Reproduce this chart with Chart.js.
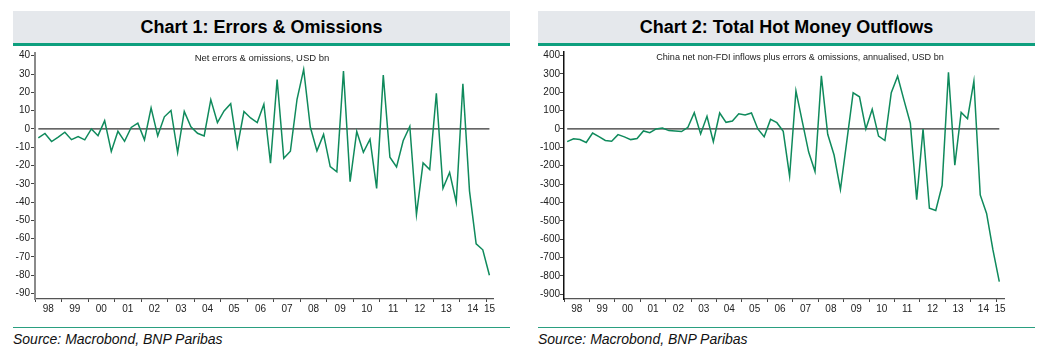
<!DOCTYPE html>
<html>
<head>
<meta charset="utf-8">
<script src="https://cdn.jsdelivr.net/npm/chart.js@4.4.1/dist/chart.umd.min.js"></script>
<style>
  html, body { margin: 0; padding: 0; background: #ffffff; }
  body { width: 1048px; height: 355px; position: relative; overflow: hidden; font-family: "Liberation Sans", Arial, sans-serif; }
  .titlebar { position: absolute; top: 11px; width: 497px; height: 32px; background: #e5e8ec;
    font-weight: bold; font-size: 18px; line-height: 33px; text-align: center; color: #000; }
  .rule { position: absolute; top: 43px; width: 497px; height: 3px; background: #0e9f7e; }
  .brule { position: absolute; top: 327px; width: 497px; height: 1px; background: #2a9f80; }
  .source { position: absolute; top: 331px; font-style: italic; font-size: 14px; color: #111; white-space: nowrap; }
  .sub { position: absolute; top: 52px; font-size: 9.5px; color: #222; white-space: nowrap; transform: translateX(-50%); }
  .cv { position: absolute; top: 46px; width: 520px; height: 280px; }
</style>
</head>
<body>
  <div class="titlebar" style="left:13px">Chart 1: Errors &amp; Omissions</div>
  <div class="rule" style="left:13px"></div>
  <div class="titlebar" style="left:538px">Chart 2: Total Hot Money Outflows</div>
  <div class="rule" style="left:538px"></div>

  <div class="cv" style="left:0px"><canvas id="c1" width="520" height="280"></canvas></div>
  <div class="cv" style="left:525px"><canvas id="c2" width="520" height="280"></canvas></div>

  <div class="sub" style="left:262px">Net errors &amp; omissions, USD bn</div>
  <div class="sub" style="left:800px; font-size:9.1px">China net non-FDI inflows plus errors &amp; omissions, annualised, USD bn</div>

  <div class="brule" style="left:13px"></div>
  <div class="brule" style="left:538px"></div>
  <div class="source" style="left:13px">Source: Macrobond, BNP Paribas</div>
  <div class="source" style="left:538px">Source: Macrobond, BNP Paribas</div>

<script>
// ---- Data ----
const years = [1998,1999,2000,2001,2002,2003,2004,2005,2006,2007,2008,2009,2010,2011,2012,2013,2014,2015];
const yearLabels = ['98','99','00','01','02','03','04','05','06','07','08','09','10','11','12','13','14','15'];
// quarterly observations 1998Q1 .. 2015Q1
const quarters = [];
years.forEach(y => { [1,2,3,4].forEach(q => { if (y < 2015 || q === 1) quarters.push(y + 'Q' + q); }); });

const errorsOmissions = [
  -4.9, -2.5, -6.9, -4.5,
  -1.8, -5.9, -4.2, -6.0,
   0.0, -3.7,  4.5, -12.3,
  -1.3, -6.8,  0.8,  3.1,
  -6.0, 11.5, -3.8,  6.6,
  10.1, -12.9, 9.6,  1.2,
  -2.4, -3.8, 16.0,  3.5,
   9.8, 13.8, -10.0, 9.5,
   6.0,  3.5, 13.5, -18.8,
  27.0, -16.1, -12.2, 16.2,
  32.5,  1.0, -12.0, -3.0,
 -20.6, -23.5, 31.6, -28.9,
  -1.4, -12.8, -5.6, -32.5,
  29.4, -15.5, -20.8, -6.5,
   1.3, -46.9, -18.6, -22.2,
  19.5, -32.5, -23.8, -40.1,
  24.7, -34.0, -62.8, -66.1,
 -80.0
];

const hotMoney = [
  -69, -54, -58, -74,
  -22, -42, -63, -67,
  -31, -43, -58, -52,
  -11, -20,   0,   5,
   -9, -11, -14,   9,
   88, -27,  69, -69,
   87,  36,  43,  83,
   76,  87,   0, -42,
   52,  34, -13, -256,
  207,  40, -126, -232,
  289, -29, -142, -330,
  -68, 197, 175,   0,
  107, -39, -63, 197,
  287, 157,  31, -385,
    0, -432, -444, -307,
  309, -197,  90,  56,
  260, -359, -460, -659,
 -831
];

// ---- helpers ----
function qx(label) { // mid-quarter position in fractional years
  const y = parseInt(label.slice(0, 4), 10), q = parseInt(label.slice(5), 10);
  return y + (q - 0.5) / 4;
}

function makeChart(id, values, cfg) {
  const pts = quarters.map((q, i) => ({ x: qx(q), y: values[i] }));
  const zero = quarters.map(q => ({ x: qx(q), y: 0 }));
  const xMin = years[0], xMax = cfg.xMax;
  const labelPos = years.map(y => y === years[years.length - 1] ? (y + xMax) / 2 : y + 0.5);
  const tickFont = { family: '"Liberation Sans", Arial, sans-serif', size: 10 };
  return new Chart(document.getElementById(id), {
    type: 'line',
    data: {
      datasets: [
        { data: pts, borderColor: '#0f8a5c', borderWidth: 1.5, pointRadius: 0, tension: 0, fill: false },
        { data: zero, borderColor: '#333333', borderWidth: 1.3, pointRadius: 0, tension: 0, fill: false }
      ]
    },
    options: {
      responsive: false,
      animation: false,
      events: [],
      layout: { padding: { left: 0, right: cfg.padRight, top: 5, bottom: 6 } },
      plugins: { legend: { display: false }, tooltip: { enabled: false }, title: { display: false } },
      scales: {
        x: {
          type: 'linear', min: xMin, max: xMax,
          afterBuildTicks: (s) => {
            const t = [];
            years.forEach((y, i) => { t.push({ value: y, label: '' }); t.push({ value: labelPos[i] }); });
            s.ticks = t;
          },
          afterFit: (s) => { s.height = 21; },
          ticks: {
            autoSkip: false, maxRotation: 0, minRotation: 0, padding: 1,
            color: '#222', font: tickFont,
            callback: (v) => { const i = labelPos.indexOf(v); return i >= 0 ? yearLabels[i] : ''; }
          },
          grid: {
            drawOnChartArea: false, drawTicks: true, tickLength: 3,
            tickColor: (ctx) => (ctx.tick && Number.isInteger(ctx.tick.value)) ? '#444' : 'rgba(0,0,0,0)',
            tickWidth: 1
          },
          border: { display: true, color: '#555', width: 1.2 }
        },
        y: {
          type: 'linear', min: cfg.yMin, max: cfg.yMax,
          afterFit: (s) => { s.width = cfg.yWidth; },
          ticks: { stepSize: cfg.step, includeBounds: false, autoSkip: false, padding: cfg.yPad,
                   color: '#222', font: tickFont },
          grid: { drawOnChartArea: false, drawTicks: true, tickLength: 4, tickColor: '#444', tickWidth: 1 },
          border: { display: true, color: cfg.yBorder, width: cfg.yBorderW }
        }
      }
    }
  });
}

makeChart('c1', errorsOmissions, { xMax: 2015.26, yMin: -93, yMax: 41.5, step: 10, yWidth: 35, padRight: 27, yPad: 1, yBorder: '#8a8a8a', yBorderW: 2 });
makeChart('c2', hotMoney, { xMax: 2015.31, yMin: -926, yMax: 419, step: 100, yWidth: 39, padRight: 41, yPad: 0, yBorder: '#111', yBorderW: 1.5 });
</script>
</body>
</html>
